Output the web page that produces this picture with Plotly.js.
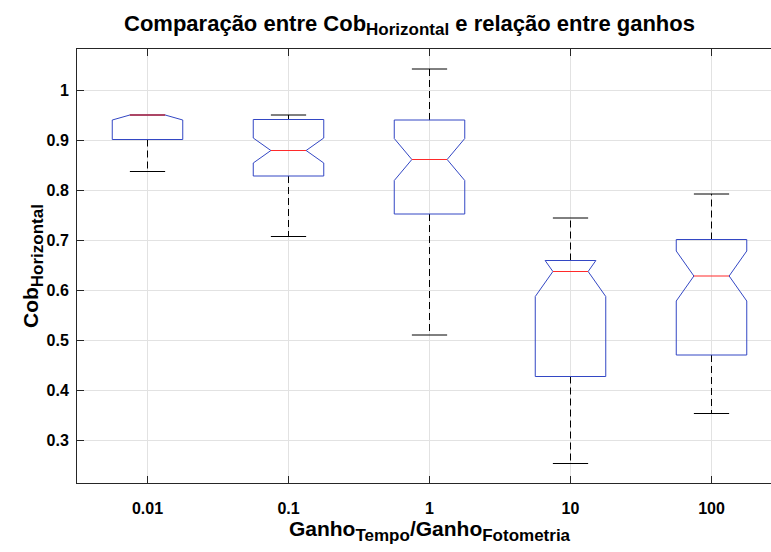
<!DOCTYPE html>
<html>
<head>
<meta charset="utf-8">
<script src="https://cdn.plot.ly/plotly-3.0.1.min.js"></script>
<style>
html, body { margin: 0; padding: 0; overflow: hidden; background: #fff; }
#chart { width: 800px; height: 552px; }
</style>
</head>
<body>
<div id="chart"></div>
<script>
// ---- data ----
const categories = ['0.01', '0.1', '1', '10', '100'];
const q1Values = [0.901, 0.828, 0.752, 0.427, 0.470];
const medianValues = [0.950, 0.879, 0.861, 0.637, 0.628];
const q3Values = [0.950, 0.941, 0.940, 0.659, 0.701];
const lowerWhiskers = [0.837, 0.707, 0.510, 0.253, 0.353];
const upperWhiskers = [0.950, 0.950, 1.042, 0.744, 0.792];
const notchSpans = [0.010, 0.025, 0.042, 0.050, 0.050];
const yTicks = [0.3, 0.4, 0.5, 0.6, 0.7, 0.8, 0.9, 1];
const yTickLabels = ['0.3', '0.4', '0.5', '0.6', '0.7', '0.8', '0.9', '1'];

// ---- styles ----
const FONT = 'Liberation Sans, Arial, Helvetica, sans-serif';
const BOX_BLUE = '#3347c4';
const MED_RED = '#ff2a2a';
const HALF_BOX = 0.25;    // half box width (category units)
const HALF_INNER = 0.125; // notch / cap half-width

const positions = categories.map((c, i) => i + 1);

// Notched box outlines (MATLAB style: notch clipped to the [q1, q3] band)
const bx = [], by = [];
positions.forEach((p, i) => {
  const q1 = q1Values[i], q3 = q3Values[i], med = medianValues[i], ns = notchSpans[i];
  const left = [];
  if (med - ns >= q1) {
    left.push([HALF_BOX, q1], [HALF_BOX, med - ns]);
  } else {
    left.push([HALF_INNER + (HALF_BOX - HALF_INNER) * (med - q1) / ns, q1]);
  }
  left.push([HALF_INNER, med]);
  if (med + ns <= q3) {
    left.push([HALF_BOX, med + ns], [HALF_BOX, q3]);
  } else {
    left.push([HALF_INNER + (HALF_BOX - HALF_INNER) * (q3 - med) / ns, q3]);
  }
  left.forEach(pt => { bx.push(p - pt[0]); by.push(pt[1]); });
  left.slice().reverse().forEach(pt => { bx.push(p + pt[0]); by.push(pt[1]); });
  bx.push(p - left[0][0], null); by.push(left[0][1], null);
});
const boxTrace = {
  type: 'scatter', mode: 'lines', x: bx, y: by,
  line: { color: BOX_BLUE, width: 1 },
  hoverinfo: 'skip', showlegend: false
};

const wx = [], wy = [];
positions.forEach((p, i) => {
  wx.push(p, p, null, p, p, null);
  wy.push(q3Values[i], upperWhiskers[i], null, q1Values[i], lowerWhiskers[i], null);
});
const whiskerTrace = {
  type: 'scatter', mode: 'lines', x: wx, y: wy,
  line: { color: '#000', width: 1, dash: '7px,4px' },
  hoverinfo: 'skip', showlegend: false
};

const cx = [], cy = [];
positions.forEach((p, i) => {
  cx.push(p - HALF_INNER, p + HALF_INNER, null, p - HALF_INNER, p + HALF_INNER, null);
  cy.push(upperWhiskers[i], upperWhiskers[i], null, lowerWhiskers[i], lowerWhiskers[i], null);
});
const capTrace = {
  type: 'scatter', mode: 'lines', x: cx, y: cy,
  line: { color: '#000', width: 1 },
  hoverinfo: 'skip', showlegend: false
};

const mx = [], my = [];
positions.forEach((p, i) => {
  mx.push(p - HALF_INNER, p + HALF_INNER, null);
  my.push(medianValues[i], medianValues[i], null);
});
const medianTrace = {
  type: 'scatter', mode: 'lines', x: mx, y: my,
  line: { color: MED_RED, width: 1.2 },
  hoverinfo: 'skip', showlegend: false
};

const sub = t => '<sub><span style="font-size:17px">' + t + '</span></sub>';

const layout = {
  width: 800, height: 552,
  margin: { l: 77, r: 18, t: 49, b: 69 },
  paper_bgcolor: '#fff', plot_bgcolor: '#fff',
  font: { family: FONT, color: '#000' },
  showlegend: false,
  title: {
    text: 'Comparação entre Cob' + sub('Horizontal') + ' e relação entre ganhos',
    font: { family: FONT, size: 22, weight: 'bold', color: '#000' },
    xref: 'container', x: 409.5 / 800, xanchor: 'center',
    yref: 'container', y: 1 - 23 / 552, yanchor: 'middle'
  },
  xaxis: {
    range: [0.5, 5.5],
    tickvals: positions,
    ticktext: categories,
    ticks: 'inside', ticklen: 7, tickcolor: '#262626', tickwidth: 1,
    showline: true, linecolor: '#262626', linewidth: 1, mirror: 'ticks',
    showgrid: true, gridcolor: '#e2e2e2', gridwidth: 1,
    zeroline: false,
    tickfont: { family: FONT, size: 16, weight: 'bold', color: '#000' },
    ticklabelstandoff: 11,
    title: {
      text: 'Ganho' + sub('Tempo') + '/Ganho' + sub('Fotometria'),
      font: { family: FONT, size: 21, weight: 'bold', color: '#000' },
      standoff: 5
    }
  },
  yaxis: {
    range: [0.214, 1.082],
    tickvals: yTicks,
    ticktext: yTickLabels,
    ticks: 'inside', ticklen: 7, tickcolor: '#262626', tickwidth: 1,
    showline: true, linecolor: '#262626', linewidth: 1, mirror: 'ticks',
    showgrid: true, gridcolor: '#e2e2e2', gridwidth: 1,
    zeroline: false,
    tickfont: { family: FONT, size: 16, weight: 'bold', color: '#000' },
    ticklabelstandoff: 4,
    title: {
      text: 'Cob' + sub('Horizontal'),
      font: { family: FONT, size: 21, weight: 'bold', color: '#000' },
      standoff: 0
    }
  }
};

Plotly.newPlot('chart', [whiskerTrace, capTrace, boxTrace, medianTrace], layout, { displayModeBar: false, staticPlot: true });
</script>
</body>
</html>
